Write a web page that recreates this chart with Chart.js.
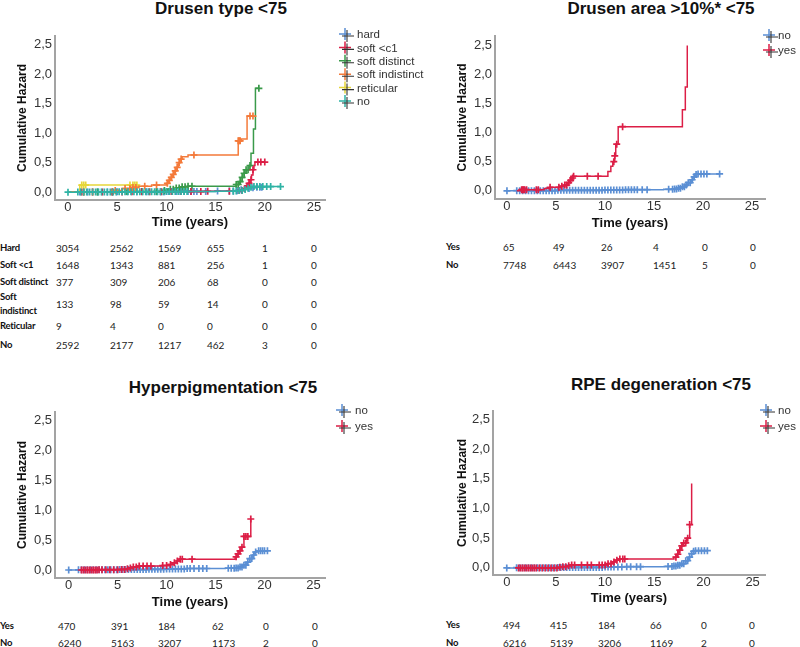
<!DOCTYPE html>
<html>
<head>
<meta charset="utf-8">
<script src="https://cdn.jsdelivr.net/npm/chart.js@4.4.1/dist/chart.umd.min.js"></script>
<style>
  body { margin: 0; background: #fff; }
  #fig { position: relative; width: 800px; height: 647px; overflow: hidden; background: #fff; font-family: "Liberation Sans", Arial, sans-serif; }
  #fig canvas { position: absolute; }
  .title { position: absolute; font-weight: bold; font-size: 17px; color: #111; white-space: nowrap; transform: translate(-50%, -50%); }
  .cell { position: absolute; font-family: Lato, "Open Sans", sans-serif; font-size: 10px; line-height: 14px; color: #222; white-space: pre; transform: translateY(-50%); }
  .cell.lab { font-weight: bold; color: #111; font-size: 9.5px; letter-spacing: -0.25px; }
</style>
</head>
<body>
<div id="fig">
  <div class="title" style="left:221px;top:9px">Drusen type &lt;75</div>
  <div class="title" style="left:661px;top:9px">Drusen area &gt;10%* &lt;75</div>
  <div class="title" style="left:223px;top:388px">Hyperpigmentation &lt;75</div>
  <div class="title" style="left:661px;top:385px">RPE degeneration &lt;75</div>
  <canvas id="c1" width="440" height="210" style="left:0;top:25px"></canvas>
  <canvas id="c2" width="360" height="210" style="left:440px;top:25px"></canvas>
  <canvas id="c3" width="440" height="215" style="left:0;top:400px"></canvas>
  <canvas id="c4" width="360" height="212" style="left:440px;top:400px"></canvas>
</div>
<script>
const timeTicks = [0, 5, 10, 15, 20, 25];
const hazardTicks = [0, 0.5, 1, 1.5, 2, 2.5];

// Drusen type <75 : step knots [time, cumulative hazard] and censor times
const hardSteps = [[0, 0], [1, 0.004], [5, 0.008], [10, 0.012], [15, 0.018], [17, 0.025], [17.5, 0.04], [18, 0.06], [18.5, 0.075], [19, 0.085]];
const hardCensor = [1.2, 2.0, 3.0, 4.0, 5.0, 6.0, 7.0, 8.0, 9.0, 9.4, 9.8, 10.2, 10.6, 11.0, 11.4, 11.8, 12.2, 12.5, 12.8, 13.1, 14.0, 15.2, 16.4, 16.8, 17.2, 17.6, 18.0, 18.4, 18.8, 19.2, 19.5, 19.7];
const softC1Steps = [[0, 0], [1.3, 0.003], [6, 0.006], [10, 0.01], [14, 0.015], [17.3, 0.03], [17.8, 0.06], [18.1, 0.1], [18.3, 0.15], [18.5, 0.21], [18.65, 0.29], [18.8, 0.38], [18.9, 0.45], [19.0, 0.51]];
const softC1Censor = [1.4, 2.5, 3.5, 4.5, 5.5, 6.5, 7.5, 8.3, 9.5, 10.5, 11.5, 12.5, 13.5, 14.2, 16.4, 17.4, 17.7, 18.0, 18.2, 18.4, 18.6, 18.8, 19.3, 19.6, 20.0];
const softDistinctSteps = [[0, 0], [1.5, 0.004], [6, 0.01], [9.5, 0.03], [10.3, 0.05], [11, 0.07], [11.6, 0.09], [12.2, 0.1], [17.1, 0.13], [17.4, 0.18], [17.7, 0.25], [17.9, 0.32], [18.1, 0.38], [18.4, 0.45], [18.6, 0.66], [18.85, 1.07], [19.05, 1.76]];
const softDistinctCensor = [1.6, 3.0, 4.5, 6.0, 7.5, 9.0, 9.8, 10.4, 10.7, 11.0, 11.3, 11.6, 11.9, 12.2, 12.6, 17.1, 17.3, 17.5, 17.7, 17.9, 18.1, 18.3, 18.5, 19.4];
const softIndistinctSteps = [[0, 0], [1.5, 0.004], [4.5, 0.03], [5.5, 0.06], [6.5, 0.08], [7.2, 0.1], [8.5, 0.12], [10, 0.15], [10.2, 0.2], [10.4, 0.25], [10.6, 0.3], [10.8, 0.36], [11, 0.42], [11.2, 0.5], [11.4, 0.56], [11.6, 0.6], [12.2, 0.63], [17.3, 0.87], [17.6, 0.9], [18.2, 1.29]];
const softIndistinctCensor = [1.6, 2.5, 4.8, 5.8, 6.3, 6.6, 6.9, 7.8, 9.0, 10.1, 10.3, 10.5, 10.7, 10.9, 11.1, 11.3, 11.5, 12.8, 17.3, 17.4, 17.5, 18.5, 18.8];
const reticularSteps = [[0, 0], [1.2, 0.12]];
const reticularCensor = [1.4, 1.6, 1.8, 6.3, 6.6, 6.8, 7.0];
const noDrusenSteps = [[0, 0], [1, 0.003], [5, 0.006], [10, 0.01], [15, 0.015], [17, 0.02], [17.4, 0.03], [17.8, 0.045], [18.2, 0.065], [18.6, 0.085], [18.9, 0.095]];
const noDrusenCensor = [0, 1.0, 1.3, 1.6, 1.9, 2.2, 2.5, 2.8, 3.1, 3.4, 3.7, 4.0, 4.3, 4.6, 4.9, 5.2, 5.5, 5.8, 6.1, 6.4, 6.7, 7.0, 7.3, 7.6, 7.9, 8.2, 8.5, 8.8, 9.1, 9.4, 9.7, 10.0, 10.3, 10.6, 10.9, 11.2, 11.5, 11.8, 12.1, 16.8, 17.1, 17.4, 17.7, 18.0, 18.3, 18.6, 18.9, 19.2, 19.5, 19.8, 20.2, 20.6, 21.6];

// Drusen area >10%* <75
const areaNoSteps = [[0, 0], [1, 0.003], [5, 0.008], [10, 0.015], [12, 0.02], [16, 0.025], [17, 0.03], [17.4, 0.045], [17.8, 0.07], [18.2, 0.1], [18.5, 0.14], [18.8, 0.19], [19.0, 0.24], [19.2, 0.28], [19.4, 0.29]];
const areaNoCensor = [0, 1.0, 1.3, 1.6, 1.9, 2.2, 2.5, 2.8, 3.1, 3.4, 3.7, 4.0, 4.3, 4.6, 4.9, 5.2, 5.5, 5.8, 6.1, 6.4, 6.7, 7.0, 7.3, 7.6, 7.9, 8.2, 8.5, 8.8, 9.1, 9.4, 9.7, 10.0, 10.3, 10.6, 10.9, 11.2, 11.5, 11.8, 12.1, 12.4, 12.7, 13.0, 13.3, 13.8, 14.3, 16.5, 16.9, 17.1, 17.3, 17.5, 17.7, 17.9, 18.1, 18.3, 18.5, 18.7, 18.9, 19.1, 19.3, 19.5, 19.8, 20.1, 20.4, 21.7];
const areaYesSteps = [[1.0, 0], [1.5, 0.02], [3.8, 0.04], [4.4, 0.06], [5.5, 0.08], [5.9, 0.1], [6.2, 0.14], [6.4, 0.18], [6.6, 0.22], [6.75, 0.25], [10.3, 0.33], [10.6, 0.42], [10.8, 0.5], [11.0, 0.6], [11.1, 0.8], [11.35, 1.1], [17.9, 1.39], [18.2, 1.78], [18.4, 2.49]];
const areaYesCensor = [1.5, 1.6, 1.7, 1.8, 2.0, 3.0, 3.2, 4.4, 5.3, 5.6, 5.9, 6.1, 6.3, 6.5, 6.7, 6.8, 8.2, 9.3, 10.9, 11.0, 11.2, 11.8];

// Hyperpigmentation <75
const hyperNoSteps = [[0, 0], [1, 0.003], [5, 0.008], [8, 0.012], [10, 0.018], [12, 0.025], [16, 0.03], [17, 0.035], [17.4, 0.05], [17.8, 0.08], [18.2, 0.13], [18.5, 0.19], [18.8, 0.25], [19.0, 0.3], [19.2, 0.32]];
const hyperNoCensor = [0, 1.0, 1.3, 1.6, 1.9, 2.2, 2.5, 2.8, 3.1, 3.4, 3.7, 4.0, 4.3, 4.6, 4.9, 5.2, 5.5, 5.8, 6.1, 6.4, 6.7, 7.0, 7.3, 7.6, 7.9, 8.2, 8.5, 8.8, 9.1, 9.4, 9.7, 10.0, 10.3, 10.6, 10.9, 11.2, 11.5, 11.8, 12.1, 12.4, 12.8, 13.3, 13.7, 14.1, 16.3, 16.6, 16.9, 17.1, 17.3, 17.5, 17.7, 17.9, 18.1, 18.3, 18.5, 18.7, 18.9, 19.1, 19.4, 19.6, 19.8, 20.0, 20.3];
const hyperYesSteps = [[1.3, 0], [3, 0.005], [5.3, 0.01], [5.8, 0.02], [6.2, 0.035], [6.6, 0.05], [7.0, 0.065], [9.5, 0.075], [10.2, 0.09], [10.6, 0.12], [11.0, 0.15], [11.3, 0.18], [17.0, 0.22], [17.2, 0.27], [17.4, 0.32], [17.6, 0.38], [17.9, 0.56], [18.6, 0.85]];
const hyperYesCensor = [1.3, 1.5, 1.7, 1.9, 2.1, 2.3, 2.5, 2.7, 2.9, 3.1, 3.4, 3.8, 4.2, 4.6, 5.0, 5.4, 5.7, 6.0, 6.3, 6.6, 6.9, 7.2, 7.6, 8.0, 8.4, 9.6, 10.0, 10.4, 10.8, 11.1, 11.4, 11.6, 12.6, 17.1, 17.3, 17.5, 17.7, 17.9, 18.1, 18.3, 18.6];

// RPE degeneration <75
const rpeNoSteps = [[0, 0], [1, 0.003], [5, 0.008], [10, 0.015], [12, 0.02], [16, 0.025], [17, 0.03], [17.4, 0.045], [17.8, 0.07], [18.2, 0.12], [18.5, 0.18], [18.8, 0.24], [19.0, 0.28], [19.2, 0.29]];
const rpeNoCensor = [0, 1.0, 1.3, 1.6, 1.9, 2.2, 2.5, 2.8, 3.1, 3.4, 3.7, 4.0, 4.3, 4.6, 4.9, 5.2, 5.5, 5.8, 6.1, 6.4, 6.7, 7.0, 7.3, 7.6, 7.9, 8.2, 8.5, 8.8, 9.1, 9.4, 9.7, 10.0, 10.3, 10.6, 10.9, 11.3, 11.7, 12.2, 12.6, 13.2, 13.6, 16.4, 16.8, 17.0, 17.2, 17.4, 17.6, 17.8, 18.0, 18.2, 18.4, 18.6, 18.8, 19.0, 19.2, 19.5, 19.8, 20.1, 20.4];
const rpeYesSteps = [[1.2, 0], [5.3, 0.01], [5.7, 0.02], [6.1, 0.035], [6.5, 0.05], [10.3, 0.07], [10.7, 0.1], [11.0, 0.13], [11.3, 0.15], [17.0, 0.18], [17.3, 0.23], [17.5, 0.3], [17.7, 0.37], [17.9, 0.42], [18.3, 0.5], [18.6, 0.73], [18.8, 1.42]];
const rpeYesCensor = [1.2, 1.4, 1.6, 1.8, 2.0, 2.2, 2.4, 2.6, 2.8, 3.0, 3.3, 3.6, 3.9, 4.2, 4.5, 4.8, 5.1, 5.4, 5.7, 6.0, 6.3, 6.6, 6.9, 7.6, 8.2, 8.6, 9.4, 9.7, 10.0, 10.3, 10.6, 10.9, 11.2, 11.5, 11.8, 12.0, 17.2, 17.4, 17.6, 17.8, 18.0, 18.2, 18.4, 18.6];

// numbers at risk at 0, 5, 10, 15, 20, 25 years
const drusenTypeRowLabels = ['Hard', 'Soft <c1', 'Soft distinct', 'Soft\nindistinct', 'Reticular', 'No'];
const riskHard = [3054, 2562, 1569, 655, 1, 0];
const riskSoftC1 = [1648, 1343, 881, 256, 1, 0];
const riskSoftDistinct = [377, 309, 206, 68, 0, 0];
const riskSoftIndistinct = [133, 98, 59, 14, 0, 0];
const riskReticular = [9, 4, 0, 0, 0, 0];
const riskNoDrusen = [2592, 2177, 1217, 462, 3, 0];
const yesNoRowLabels = ['Yes', 'No'];
const riskAreaYes = [65, 49, 26, 4, 0, 0];
const riskAreaNo = [7748, 6443, 3907, 1451, 5, 0];
const riskHyperYes = [470, 391, 184, 62, 0, 0];
const riskHyperNo = [6240, 5163, 3207, 1173, 2, 0];
const riskRpeYes = [494, 415, 184, 66, 0, 0];
const riskRpeNo = [6216, 5139, 3206, 1169, 2, 0];

const BLUE = '#5b8fd4', RED = '#dc1e46', GREEN = '#3a9a4a', ORANGE = '#f47a3a', YELLOW = '#e6d63a', TEAL = '#2fb3a5';

Chart.defaults.font.family = '"Liberation Sans", Arial, sans-serif';
Chart.defaults.color = '#333';

function hazardAt(steps, t) {
  let h = steps[0][1];
  for (const [x, y] of steps) {
    if (x <= t) h = y;
  }
  return h;
}

const kmLegend = {
  id: 'kmLegend',
  afterDraw(chart, args, opts) {
    const ctx = chart.ctx;
    ctx.save();
    ctx.font = '11.5px "Liberation Sans", Arial, sans-serif';
    ctx.textBaseline = 'middle';
    opts.items.forEach((it, i) => {
      const x = opts.x, y = opts.y + i * opts.gap;
      ctx.lineWidth = 1.5;
      ctx.strokeStyle = it.color;
      ctx.beginPath();
      ctx.moveTo(x - 7, y - 1); ctx.lineTo(x + 5, y - 1);
      ctx.moveTo(x - 1, y - 7); ctx.lineTo(x - 1, y + 5);
      ctx.stroke();
      ctx.lineWidth = 1.1;
      ctx.strokeStyle = '#333';
      ctx.beginPath();
      ctx.moveTo(x - 4, y + 1); ctx.lineTo(x + 8, y + 1);
      ctx.moveTo(x + 1, y - 5); ctx.lineTo(x + 1, y + 7);
      ctx.stroke();
      ctx.fillStyle = '#333';
      ctx.fillText(it.label, opts.textX, y);
    });
    ctx.restore();
  }
};

function kmChart(id, groups, box) {
  const datasets = [];
  groups.forEach(g => {
    const lastStep = g.steps[g.steps.length - 1];
    const end = Math.max(lastStep[0], ...g.censor);
    const line = g.steps.map(([x, y]) => ({ x, y }));
    if (end > lastStep[0]) line.push({ x: end, y: lastStep[1] });
    datasets.push({
      label: g.label, data: line, stepped: true, borderColor: g.color,
      borderWidth: 1.5, pointRadius: 0, fill: false, order: g.layer
    });
    datasets.push({
      label: '', data: g.censor.map(t => ({ x: t, y: hazardAt(g.steps, t) })),
      showLine: false, pointStyle: 'cross', pointRadius: 3.5, pointHoverRadius: 3.5,
      pointBorderColor: g.color, pointBorderWidth: 1.7, order: g.layer
    });
  });

  new Chart(document.getElementById(id), {
    type: 'line',
    data: { datasets },
    plugins: [kmLegend],
    options: {
      responsive: false,
      animation: false,
      devicePixelRatio: 1,
      events: [],
      layout: { padding: { left: 0, top: box.padTop, right: box.padRight, bottom: 0 } },
      plugins: {
        legend: { display: false },
        tooltip: { enabled: false },
        kmLegend: {
          x: box.legX, textX: box.legTextX, y: box.legY, gap: box.legGap,
          items: groups.map(g => ({ label: g.label, color: g.color }))
        }
      },
      scales: {
        x: {
          type: 'linear', min: box.xMin, max: box.xMax,
          afterBuildTicks: s => { s.ticks = timeTicks.map(v => ({ value: v })); },
          afterFit: s => { s.height = box.xH; },
          grid: { display: false, drawTicks: false },
          border: { display: true, color: '#a3a3a3', width: 2 },
          ticks: { color: '#333', font: { size: 13 }, padding: 0, autoSkip: false, maxRotation: 0 },
          title: {
            display: true, text: 'Time (years)', color: '#111',
            font: { size: 13, weight: 'bold' }, padding: { top: 0, bottom: box.xTitlePad }
          }
        },
        y: {
          type: 'linear', min: box.yMin, max: box.yMax,
          afterBuildTicks: s => { s.ticks = hazardTicks.map(v => ({ value: v })); },
          afterFit: s => { s.width = box.yW; },
          grid: { display: false, drawTicks: false },
          border: { display: true, color: '#a3a3a3', width: 2 },
          ticks: { color: '#333', font: { size: 13 }, padding: 3, autoSkip: false,
                   callback: v => v.toFixed(1).replace('.', ',') },
          title: {
            display: true, text: 'Cumulative Hazard', color: '#111',
            font: { size: 12, weight: 'bold' }, padding: { top: 15, bottom: 0 }
          }
        }
      }
    }
  });
}

kmChart('c1', [
  { label: 'hard', steps: hardSteps, censor: hardCensor, color: BLUE, layer: 6 },
  { label: 'soft <c1', steps: softC1Steps, censor: softC1Censor, color: RED, layer: 4 },
  { label: 'soft distinct', steps: softDistinctSteps, censor: softDistinctCensor, color: GREEN, layer: 5 },
  { label: 'soft indistinct', steps: softIndistinctSteps, censor: softIndistinctCensor, color: ORANGE, layer: 2 },
  { label: 'reticular', steps: reticularSteps, censor: reticularCensor, color: YELLOW, layer: 3 },
  { label: 'no', steps: noDrusenSteps, censor: noDrusenCensor, color: TEAL, layer: 1 }
], { padTop: 8, padRight: 115, yW: 55, xH: 35, xTitlePad: 5, xMin: -1.32, xMax: 26.12, yMin: -0.133, yMax: 2.65,
     legX: 346, legTextX: 357, legY: 10, legGap: 13.4 });

kmChart('c2', [
  { label: 'no', steps: areaNoSteps, censor: areaNoCensor, color: BLUE, layer: 2 },
  { label: 'yes', steps: areaYesSteps, censor: areaYesCensor, color: RED, layer: 1 }
], { padTop: 8, padRight: 35, yW: 55, xH: 36, xTitlePad: 4, xMin: -1.22, xMax: 26.33, yMin: -0.14, yMax: 2.657,
     legX: 330, legTextX: 338, legY: 11, legGap: 15 });

kmChart('c3', [
  { label: 'no', steps: hyperNoSteps, censor: hyperNoCensor, color: BLUE, layer: 2 },
  { label: 'yes', steps: hyperYesSteps, censor: hyperYesCensor, color: RED, layer: 1 }
], { padTop: 12, padRight: 115, yW: 55, xH: 37, xTitlePad: 5, xMin: -1.4, xMax: 26.18, yMin: -0.133, yMax: 2.633,
     legX: 343, legTextX: 355, legY: 11, legGap: 16 });

kmChart('c4', [
  { label: 'no', steps: rpeNoSteps, censor: rpeNoCensor, color: BLUE, layer: 2 },
  { label: 'yes', steps: rpeYesSteps, censor: rpeYesCensor, color: RED, layer: 1 }
], { padTop: 7, padRight: 35, yW: 53, xH: 37, xTitlePad: 6, xMin: -1.4, xMax: 26.26, yMin: -0.12, yMax: 2.647,
     legX: 327, legTextX: 338, legY: 11, legGap: 16 });

function addCell(text, x, y, isLabel) {
  const d = document.createElement('div');
  d.className = isLabel ? 'cell lab' : 'cell';
  d.textContent = text;
  d.style.left = x + 'px';
  d.style.top = y + 'px';
  document.getElementById('fig').appendChild(d);
}

function riskTable(labels, rows, labelX, cols, ys) {
  labels.forEach((lab, i) => {
    addCell(lab, labelX, ys[i], true);
    rows[i].forEach((n, j) => addCell(String(n), cols[j], ys[i], false));
  });
}

riskTable(drusenTypeRowLabels,
  [riskHard, riskSoftC1, riskSoftDistinct, riskSoftIndistinct, riskReticular, riskNoDrusen],
  0, [56, 110, 158, 207, 262, 311], [248, 265, 282, 304, 326, 345]);
riskTable(yesNoRowLabels, [riskAreaYes, riskAreaNo],
  446, [503, 553, 601, 653, 702, 750], [247, 265]);
riskTable(yesNoRowLabels, [riskHyperYes, riskHyperNo],
  0, [58, 111, 158, 212, 263, 312], [626, 643]);
riskTable(yesNoRowLabels, [riskRpeYes, riskRpeNo],
  446, [503, 550, 598, 650, 701, 749], [625, 643]);
</script>
</body>
</html>
